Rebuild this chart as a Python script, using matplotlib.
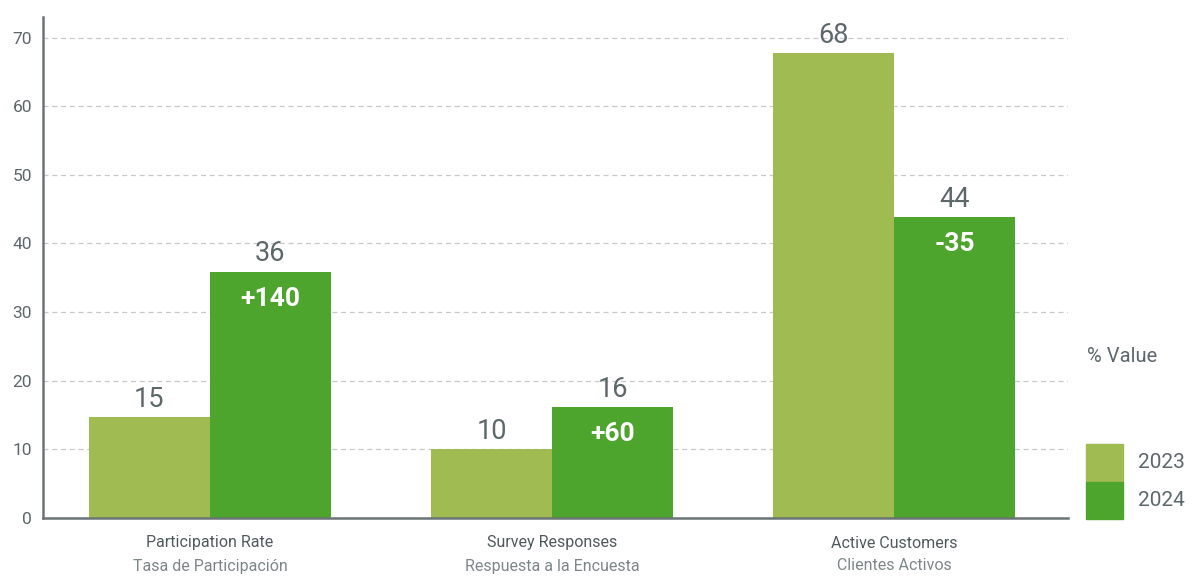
import numpy as np
import matplotlib.pyplot as plt
from matplotlib.transforms import blended_transform_factory
from matplotlib.patches import Rectangle

plt.rcParams['font.family'] = ['Roboto', 'DejaVu Sans']

# data
cats_en = ["Participation Rate", "Survey Responses", "Active Customers"]
cats_es = ["Tasa de Participación", "Respuesta a la Encuesta", "Clientes Activos"]
vals_2023 = [14.7, 10.1, 67.7]
vals_2024 = [35.9, 16.2, 43.9]
labels_2023 = ["15", "10", "68"]
labels_2024 = ["36", "16", "44"]
change = ["+140", "+60", "-35"]
years = ["2023", "2024"]

c23 = "#9fbb51"
c24 = "#4ea52d"
txt = "#5d686b"
spine = "#6b7476"

fig = plt.figure(figsize=(11.92, 5.76), dpi=100)
ax = fig.add_axes([0.0361, 0.1007, 0.8600, 0.8698])

x = np.arange(len(cats_en))
w = 0.354
ax.bar(x - w / 2, vals_2023, w, color=c23, zorder=3)
ax.bar(x + w / 2, vals_2024, w, color=c24, zorder=3)

for i in range(len(x)):
    ax.annotate(labels_2023[i], (x[i] - w / 2, vals_2023[i]), xytext=(0, 3),
                textcoords="offset points", ha="center", va="bottom",
                fontsize=19.5, color=txt, zorder=4)
    ax.annotate(labels_2024[i], (x[i] + w / 2, vals_2024[i]), xytext=(0, 3),
                textcoords="offset points", ha="center", va="bottom",
                fontsize=19.5, color=txt, zorder=4)
    ax.annotate(change[i], (x[i] + w / 2, vals_2024[i]), xytext=(0, -19.5),
                textcoords="offset points", ha="center", va="center",
                fontsize=19, color="white", fontweight="bold", zorder=4)

ax.set_xlim(-0.488, 2.509)
ax.set_ylim(0, 73)
ax.set_yticks(range(0, 71, 10))
ax.set_xticks([])
ax.tick_params(axis="y", length=0, pad=8, labelsize=12.5, labelcolor=txt)
ax.grid(axis="y", color="#c9c9c9", linestyle=(0, (4, 3)), linewidth=0.9, zorder=0)

for s in ["top", "right"]:
    ax.spines[s].set_visible(False)
for s in ["left", "bottom"]:
    ax.spines[s].set_color(spine)
    ax.spines[s].set_linewidth(1.8)
    ax.spines[s].set_zorder(5)

tr = blended_transform_factory(ax.transData, fig.transFigure)
for i in range(len(x)):
    ax.text(x[i], 1 - 543 / 576, cats_en[i], transform=tr, ha="center", va="center",
            fontsize=11.5, color="#4f5a5d")
    ax.text(x[i], 1 - 566 / 576, cats_es[i], transform=tr, ha="center", va="center",
            fontsize=11.5, color="#7d878a")

# legend
fig.text(1087 / 1192, 1 - 356 / 576, "% Value", ha="left", va="center",
         fontsize=14.5, color=txt)
for j, (yr, col) in enumerate(zip(years, [c23, c24])):
    top = 444 + j * 37.5
    fig.patches.append(Rectangle((1086 / 1192, 1 - (top + 37.5) / 576), 37 / 1192,
                                 37.5 / 576, transform=fig.transFigure,
                                 color=col))
    fig.text(1138 / 1192, 1 - (top + 19) / 576, yr, ha="left", va="center",
             fontsize=15, color=txt)

fig.savefig("out.png", dpi=100)
